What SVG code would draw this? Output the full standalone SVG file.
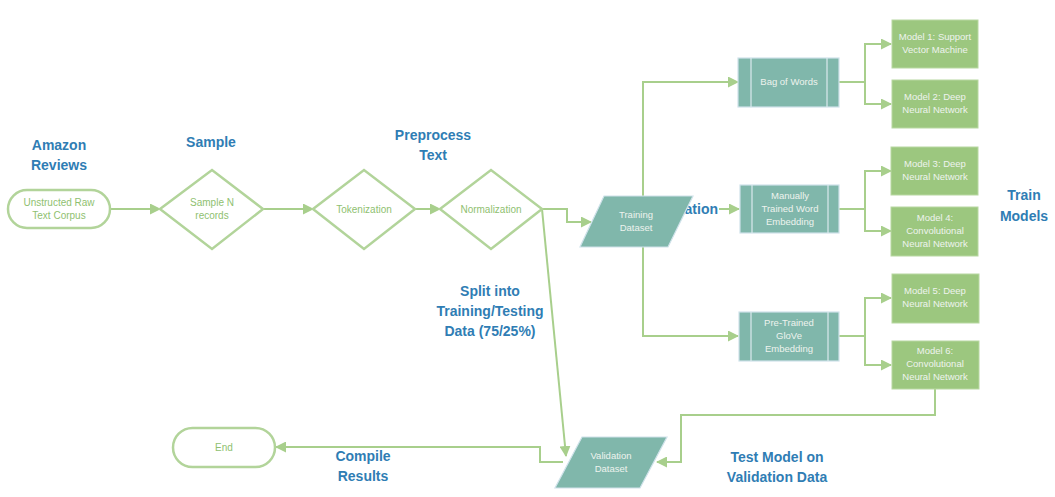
<svg xmlns="http://www.w3.org/2000/svg" width="1055" height="497" viewBox="0 0 1055 497">
<style>
.bg{fill:#ffffff}
.line{fill:none;stroke:#a8cf8c;stroke-width:2}
.term{fill:#ffffff;stroke:#b2d49a;stroke-width:2.5}
.dia{fill:#ffffff;stroke:#b2d49a;stroke-width:2.5}
.teal{fill:#80b7ab;stroke:#cfe2ea;stroke-width:1.2}
.tline{stroke:#dbe9ee;stroke-width:1.2}
.model{fill:#9cc77f;stroke:#b8d8a2;stroke-width:1}
.gt{font-family:"Liberation Sans",Arial,sans-serif;font-size:10px;fill:#8fbf70;text-anchor:middle}
.wt{font-family:"Liberation Sans",Arial,sans-serif;font-size:9.5px;fill:#eef3ee;text-anchor:middle}
.lbl{font-family:"Liberation Sans",Arial,sans-serif;font-size:14px;font-weight:bold;fill:#2f7db4;text-anchor:middle}
</style>
<defs>
<marker id="arr" markerWidth="11" markerHeight="11" refX="10" refY="5.5" orient="auto" markerUnits="userSpaceOnUse">
<path d="M0,0 L11,5.5 L0,11 z" fill="#a8cf8c"/>
</marker>
</defs>
<rect class="bg" x="0" y="0" width="1055" height="497"/>

<g id="connectors">
<path class="line" d="M110,209 H160" marker-end="url(#arr)"/>
<path class="line" d="M263,209 H313" marker-end="url(#arr)"/>
<path class="line" d="M415,209 H440" marker-end="url(#arr)"/>
<path class="line" d="M542,209 H567 V222 H591" marker-end="url(#arr)"/>
<path class="line" d="M542,209 L566,456" marker-end="url(#arr)"/>
<path class="line" d="M643,200 V82 H738" marker-end="url(#arr)"/>
<path class="line" d="M643,245 V336 H738" marker-end="url(#arr)"/>
<path class="line" d="M719,209 H739" marker-end="url(#arr)"/>
<path class="line" d="M839,82 H865 V44 H891" marker-end="url(#arr)"/>
<path class="line" d="M839,82 H865 V104 H891" marker-end="url(#arr)"/>
<path class="line" d="M839,209 H865 V171 H891" marker-end="url(#arr)"/>
<path class="line" d="M839,209 H865 V231 H891" marker-end="url(#arr)"/>
<path class="line" d="M839,336 H865 V298 H891" marker-end="url(#arr)"/>
<path class="line" d="M839,336 H865 V365 H891" marker-end="url(#arr)"/>
<path class="line" d="M935,389 V415 H681 V462 H657" marker-end="url(#arr)"/>
<path class="line" d="M563,462 H540 V447 H276" marker-end="url(#arr)"/>
</g>

<g id="labels">
<text class="lbl" x="59" y="150">Amazon</text>
<text class="lbl" x="59" y="170">Reviews</text>
<text class="lbl" x="211" y="147">Sample</text>
<text class="lbl" x="433" y="140">Preprocess</text>
<text class="lbl" x="433" y="160">Text</text>
<text class="lbl" x="490" y="296">Split into</text>
<text class="lbl" x="490" y="316">Training/Testing</text>
<text class="lbl" x="490" y="336">Data (75/25%)</text>
<text class="lbl" x="1024" y="200">Train</text>
<text class="lbl" x="1024" y="221">Models</text>
<text class="lbl" x="363" y="461">Compile</text>
<text class="lbl" x="363" y="481">Results</text>
<text class="lbl" x="777" y="462">Test Model on</text>
<text class="lbl" x="777" y="482">Validation Data</text>
<text class="lbl" x="718" y="214" style="text-anchor:end">ation</text>
</g>

<g id="start">
<rect class="term" x="8" y="190" width="102" height="38" rx="19"/>
<text class="gt" x="59" y="206">Unstructed Raw</text>
<text class="gt" x="59" y="219">Text Corpus</text>
</g>

<g id="sample">
<polygon class="dia" points="160,209 212,170 263,209 212,249"/>
<text class="gt" x="212" y="206">Sample N</text>
<text class="gt" x="212" y="219">records</text>
</g>

<g id="tokenization">
<polygon class="dia" points="313,209 364,170 415,209 364,249"/>
<text class="gt" x="364" y="213">Tokenization</text>
</g>

<g id="normalization">
<polygon class="dia" points="440,209 491,170 542,209 491,249"/>
<text class="gt" x="491" y="213">Normalization</text>
</g>

<g id="training">
<polygon class="teal" points="604,196 693,196 668,247 580,247"/>
<text class="wt" x="636" y="218">Training</text>
<text class="wt" x="636" y="231">Dataset</text>
</g>

<g id="bagofwords">
<rect class="teal" x="738" y="58" width="101" height="49"/>
<line class="tline" x1="751" y1="58" x2="751" y2="107"/>
<line class="tline" x1="827" y1="58" x2="827" y2="107"/>
<text class="wt" x="789" y="85">Bag of Words</text>
</g>

<g id="manual">
<rect class="teal" x="740" y="185" width="99" height="48"/>
<line class="tline" x1="752" y1="185" x2="752" y2="233"/>
<line class="tline" x1="828" y1="185" x2="828" y2="233"/>
<text class="wt" x="790" y="199">Manually</text>
<text class="wt" x="790" y="212">Trained Word</text>
<text class="wt" x="790" y="225">Embedding</text>
</g>

<g id="pretrained">
<rect class="teal" x="739" y="312" width="100" height="49"/>
<line class="tline" x1="751" y1="312" x2="751" y2="361"/>
<line class="tline" x1="828" y1="312" x2="828" y2="361"/>
<text class="wt" x="789" y="326">Pre-Trained</text>
<text class="wt" x="789" y="339">GloVe</text>
<text class="wt" x="789" y="352">Embedding</text>
</g>

<g id="model1">
<rect class="model" x="892" y="20" width="86" height="48"/>
<text class="wt" x="935" y="40">Model 1: Support</text>
<text class="wt" x="935" y="53">Vector Machine</text>
</g>
<g id="model2">
<rect class="model" x="892" y="80" width="86" height="48"/>
<text class="wt" x="935" y="100">Model 2: Deep</text>
<text class="wt" x="935" y="113">Neural Network</text>
</g>
<g id="model3">
<rect class="model" x="891" y="147" width="87" height="48"/>
<text class="wt" x="935" y="167">Model 3: Deep</text>
<text class="wt" x="935" y="180">Neural Network</text>
</g>
<g id="model4">
<rect class="model" x="891" y="207" width="87" height="49"/>
<text class="wt" x="935" y="221">Model 4:</text>
<text class="wt" x="935" y="234">Convolutional</text>
<text class="wt" x="935" y="247">Neural Network</text>
</g>
<g id="model5">
<rect class="model" x="892" y="274" width="87" height="49"/>
<text class="wt" x="935" y="294">Model 5: Deep</text>
<text class="wt" x="935" y="307">Neural Network</text>
</g>
<g id="model6">
<rect class="model" x="892" y="341" width="87" height="48"/>
<text class="wt" x="935" y="354">Model 6:</text>
<text class="wt" x="935" y="367">Convolutional</text>
<text class="wt" x="935" y="380">Neural Network</text>
</g>

<g id="validation">
<polygon class="teal" points="582,437 667,437 640,488 555,488"/>
<text class="wt" x="611" y="459">Validation</text>
<text class="wt" x="611" y="472">Dataset</text>
</g>

<g id="end">
<rect class="term" x="173" y="428" width="102" height="39" rx="19.5"/>
<text class="gt" x="224" y="451">End</text>
</g>
</svg>
